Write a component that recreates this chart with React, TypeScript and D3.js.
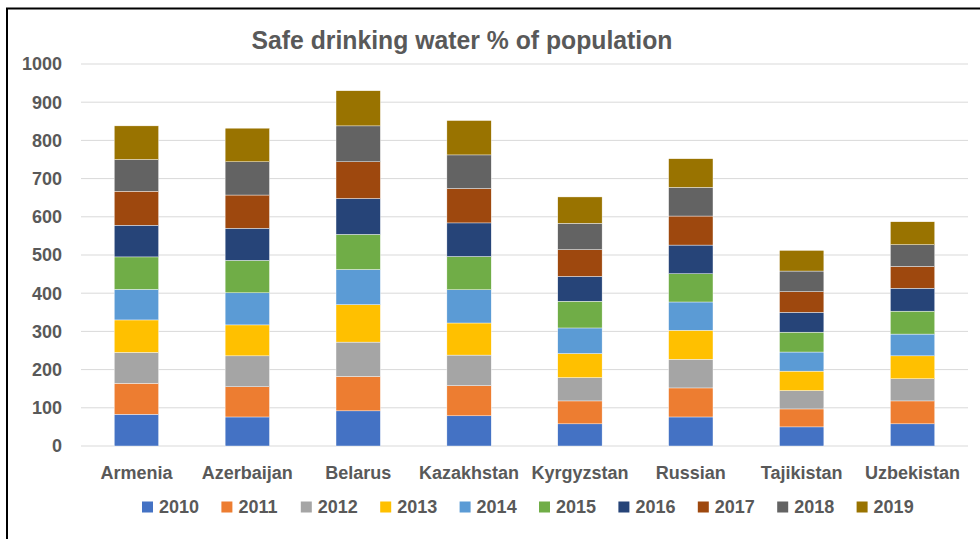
import * as d3 from 'd3';
import * as React from 'react';

// countries and yearly values
const countries = ['Armenia', 'Azerbaijan', 'Belarus', 'Kazakhstan', 'Kyrgyzstan', 'Russian', 'Tajikistan', 'Uzbekistan'];
const years = ['2010', '2011', '2012', '2013', '2014', '2015', '2016', '2017', '2018', '2019'];
const colors = ['#4472C4', '#ED7D31', '#A5A5A5', '#FFC000', '#5B9BD5', '#70AD47', '#264478', '#9E480E', '#636363', '#997300'];

const armenia = [83, 81, 81, 85, 80, 85, 83, 89, 83, 88];
const azerbaijan = [76, 79, 81, 81, 84, 85, 84, 87, 87, 88];
const belarus = [92, 90, 90, 98, 92, 92, 94, 96, 94, 92];
const kazakhstan = [79, 79, 80, 84, 87, 87, 88, 90, 88, 90];
const kyrgyzstan = [58, 60, 61, 63, 67, 70, 65, 70, 69, 69];
const russian = [76, 76, 75, 76, 74, 74, 75, 76, 75, 75];
const tajikistan = [50, 47, 48, 51, 50, 52, 52, 54, 54, 54];
const uzbekistan = [58, 60, 58, 60, 57, 60, 60, 57, 57, 60];

const yTicks = [0, 100, 200, 300, 400, 500, 600, 700, 800, 900, 1000];

const FONT = '"Liberation Sans", Arial, sans-serif';
const GREY = '#595959';

export default function App() {
  const width = 980, height = 539;
  const plot = { left: 81, right: 968, top: 64, bottom: 446 };

  const table = countries.map((c, i) => {
    const vals = [armenia, azerbaijan, belarus, kazakhstan, kyrgyzstan, russian, tajikistan, uzbekistan][i];
    const row: any = { country: c };
    years.forEach((y, j) => { row[y] = vals[j]; });
    return row;
  });

  const stack = d3.stack().keys(years)(table);

  const x = d3.scaleBand().domain(countries).range([plot.left, plot.right]).paddingInner(0.6).paddingOuter(0.3);
  const y = d3.scaleLinear().domain([0, 1000]).range([plot.bottom, plot.top]);

  const legendX = d3.scaleBand().domain(years).range([142, 936]);

  return (
    <svg width={width} height={height} style={{ position: 'absolute', left: 0, top: 0, background: '#fff' }}>
      <rect x={0} y={0} width={width} height={height} fill="#fff" />
      {/* outer frame */}
      <rect x={7} y={8.5} width={width + 10} height={height + 10} fill="none" stroke="#000" strokeWidth={2} />

      <text x={462} y={49} textAnchor="middle" fontFamily={FONT} fontWeight="bold" fontSize={26} fill={GREY}
        textLength={421} lengthAdjust="spacingAndGlyphs">
        Safe drinking water % of population
      </text>

      {yTicks.map(t => (
        <g key={t}>
          <line x1={plot.left} x2={plot.right} y1={y(t)} y2={y(t)} stroke="#d9d9d9" strokeWidth={1} />
          <text x={62} y={y(t)} dy="0.35em" textAnchor="end" fontFamily={FONT} fontWeight="bold" fontSize={18} fill={GREY}>{t}</text>
        </g>
      ))}

      {stack.map((layer, i) => (
        <g key={layer.key} fill={colors[i]}>
          {layer.map((d: any) => (
            <rect key={d.data.country} x={x(d.data.country)} width={x.bandwidth()}
              y={y(d[1])} height={y(d[0]) - y(d[1])} stroke="#fff" strokeWidth={0.4} />
          ))}
        </g>
      ))}

      {countries.map(c => (
        <text key={c} x={(x(c) as number) + x.bandwidth() / 2} y={473} dy="0.35em" textAnchor="middle"
          fontFamily={FONT} fontWeight="bold" fontSize={18} fill={GREY}>{c}</text>
      ))}

      {years.map((yr, i) => (
        <g key={yr} transform={`translate(${legendX(yr)},507)`}>
          <rect x={0} y={-5.5} width={11} height={11} fill={colors[i]} />
          <text x={17} y={0} dy="0.35em" fontFamily={FONT} fontWeight="bold" fontSize={18} fill={GREY}>{yr}</text>
        </g>
      ))}
    </svg>
  );
}
